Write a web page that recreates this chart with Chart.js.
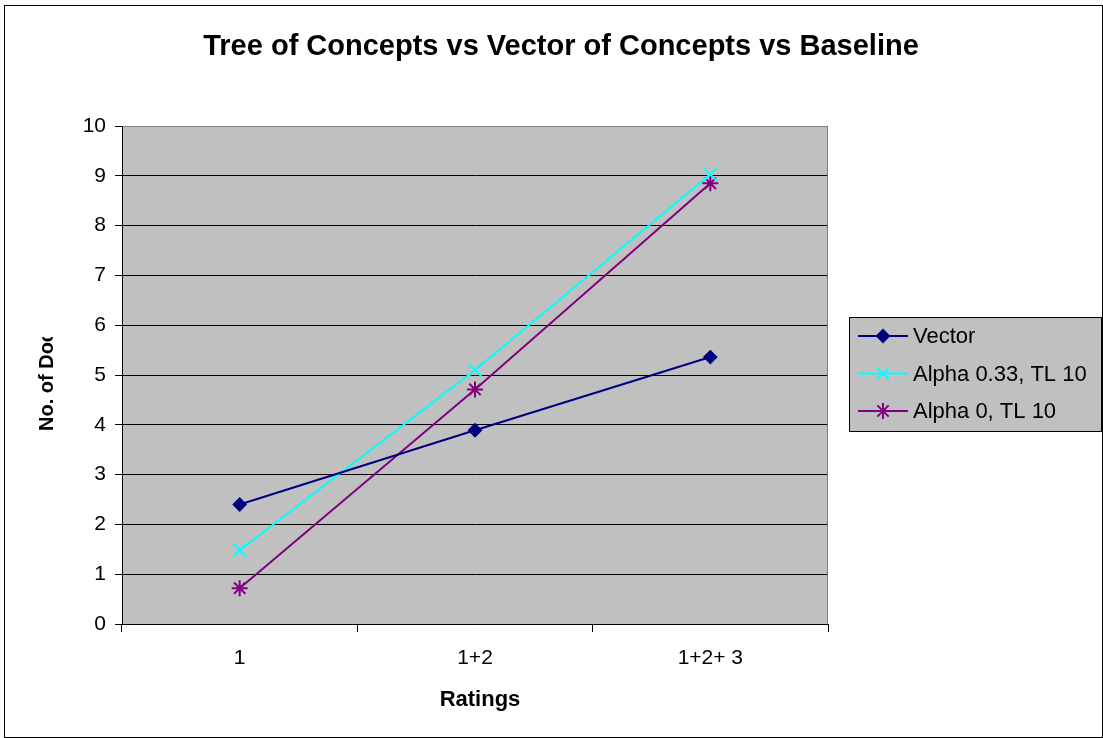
<!DOCTYPE html>
<html><head><meta charset="utf-8">
<script src="https://cdn.jsdelivr.net/npm/chart.js@4/dist/chart.umd.min.js"></script>
<style>html,body{margin:0;padding:0;background:#fff}#w{width:1103px;height:738px;position:relative}</style>
</head><body><div id="w"><canvas id="c" width="1103" height="738"></canvas></div>
<script>
const categories = ["1", "1+2", "1+2+ 3"];
const vectorValues = [2.40, 3.89, 5.36];
const alpha033Values = [1.48, 5.10, 9.03];
const alpha0Values = [0.72, 4.71, 8.85];
const seriesNames = ["Vector", "Alpha 0.33, TL 10", "Alpha 0, TL 10"];
const yTicks = [0,1,2,3,4,5,6,7,8,9,10];

const FONT = "'Liberation Sans', Arial, sans-serif";

const decor = {
  id: 'decor',
  beforeDraw(chart) {
    const ctx = chart.ctx, a = chart.chartArea;
    ctx.save();
    ctx.fillStyle = '#fff';
    ctx.fillRect(0,0,chart.width,chart.height);
    ctx.strokeStyle = '#000'; ctx.lineWidth = 1;
    ctx.strokeRect(4.5, 5.5, chart.width-5, chart.height-6);
    ctx.fillStyle = '#C0C0C0';
    ctx.fillRect(a.left, a.top, a.right-a.left, a.bottom-a.top);
    ctx.restore();
  },
  afterDraw(chart) {
    const ctx = chart.ctx, a = chart.chartArea;
    ctx.save();
    ctx.strokeStyle = '#808080'; ctx.lineWidth = 1;
    ctx.beginPath();
    ctx.moveTo(a.left+0.5, a.top+0.5); ctx.lineTo(a.right-0.5, a.top+0.5); ctx.lineTo(a.right-0.5, a.bottom);
    ctx.stroke();
    // title
    ctx.fillStyle = '#000';
    ctx.textAlign = 'center'; ctx.textBaseline = 'middle';
    ctx.font = "bold 29px " + FONT;
    ctx.fillText("Tree of Concepts vs Vector of Concepts vs Baseline", 561, 47);
    // x title
    ctx.font = "bold 22px " + FONT;
    ctx.fillText("Ratings", 480, 700);
    // y title (clipped like reference)
    ctx.save();
    ctx.font = "bold 20px " + FONT;
    ctx.beginPath(); ctx.rect(20, 337, 60, 200); ctx.clip();
    ctx.translate(47, 386); ctx.rotate(-Math.PI/2);
    ctx.textAlign = 'left';
    ctx.fillText("No. of Docs", -45, 0);
    ctx.restore();
    // legend
    const lx = 849, ly = 317, lw = 253, lh = 115;
    ctx.fillStyle = '#C0C0C0';
    ctx.fillRect(lx, ly, lw, lh);
    ctx.strokeStyle = '#000'; ctx.lineWidth = 1;
    ctx.strokeRect(lx+0.5, ly+0.5, lw-1, lh-1);
    ctx.font = "22px " + FONT; ctx.textAlign = 'left';
    chart.data.datasets.forEach((ds, i) => {
      const y = ly + 19 + i*37.5;
      ctx.strokeStyle = ds.borderColor; ctx.fillStyle = ds.backgroundColor; ctx.lineWidth = 2;
      ctx.beginPath(); ctx.moveTo(858, y); ctx.lineTo(908, y); ctx.stroke();
      Chart.helpers.drawPoint(ctx, {pointStyle: ds.pointStyle, radius: ds.pointRadius, borderWidth: 2, rotation: 0}, 883, y);
      ctx.fillStyle = '#000';
      ctx.fillText(ds.label, 913, y+1);
    });
    ctx.restore();
  }
};

const mk = (label, data, color, style, r) => ({
  label, data, borderColor: color, backgroundColor: color,
  pointBorderColor: color, pointBackgroundColor: color,
  borderWidth: 2, pointStyle: style, pointRadius: r, pointBorderWidth: 2,
  tension: 0, fill: false
});

new Chart(document.getElementById('c'), {
  type: 'line',
  data: {
    labels: categories,
    datasets: [
      mk(seriesNames[0], vectorValues, '#000080', 'rectRot', 6),
      mk(seriesNames[1], alpha033Values, '#00FFFF', 'crossRot', 9),
      mk(seriesNames[2], alpha0Values, '#800080', 'star', 8)
    ]
  },
  options: {
    responsive: false, animation: false,
    devicePixelRatio: 1,
    layout: { padding: { left: 0, top: 126, right: 275, bottom: 0 } },
    plugins: { legend: { display: false }, title: { display: false }, tooltip: { enabled: false } },
    scales: {
      x: {
        offset: true,
        grid: { offset: true, drawOnChartArea: false, color: '#000', tickLength: 8, tickColor: '#000' },
        border: { color: '#000', width: 1 },
        ticks: { color: '#000', font: { family: FONT, size: 21 }, padding: 14, maxRotation: 0 },
        afterFit(s) { s.height = 114; }
      },
      y: {
        min: 0, max: 10,
        afterBuildTicks(s) { s.ticks = yTicks.map(v => ({ value: v })); },
        grid: { color: '#000', tickLength: 7, tickColor: '#000' },
        border: { color: '#000', width: 1 },
        ticks: { color: '#000', font: { family: FONT, size: 21 }, padding: 9 },
        afterFit(s) { s.width = 122; }
      }
    }
  },
  plugins: [decor]
});
</script></body></html>
